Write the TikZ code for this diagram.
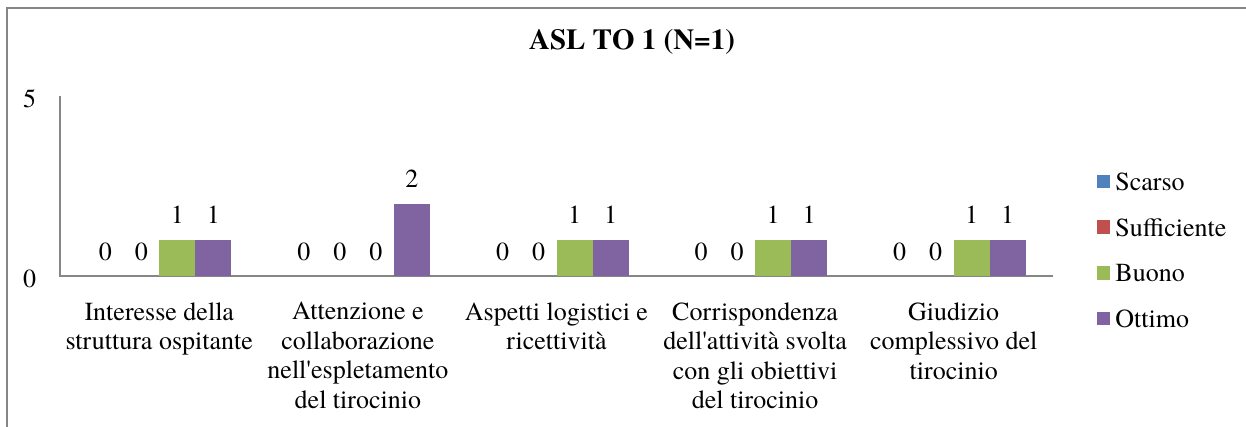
\documentclass[tikz,border=0pt]{standalone}
\usepackage{fontspec}
\setmainfont{TeX Gyre Termes}
\definecolor{scarso}{HTML}{4F81BD}
\definecolor{suff}{HTML}{C0504D}
\definecolor{buono}{HTML}{9BBB59}
\definecolor{ottimo}{HTML}{8064A2}
\definecolor{rule}{HTML}{868686}
\tikzset{
  val/.style={anchor=base, inner sep=0pt},
  cat/.style={anchor=north, align=center, inner sep=0pt},
  key/.style={anchor=base west, inner sep=0pt}
}
\begin{document}
\begin{tikzpicture}[x=0.5pt, y=-0.5pt, font=\fontsize{13}{14.75}\selectfont]
    \useasboundingbox (0,0) rectangle (1246,427);
    \draw[rule, line width=1pt] (6.5,427) -- (6.5,8.5) -- (1246,8.5);
    \node[anchor=base, font=\fontsize{14.5}{16}\selectfont\bfseries] (title) at (632,50) {ASL TO 1 (N=1)};
    \draw[rule, line width=0.8pt] (60,96) -- (60,276) -- (1053,276);
    \node (ymax) at (29.5,98.5) {5};
    \node (ymin) at (29.5,279) {0};
    \fill[buono] (159.3,276) rectangle (195.3,240);
    \fill[ottimo] (195.3,276) rectangle (231.3,240);
    \fill[ottimo] (393.9,276) rectangle (429.9,204);
    \fill[buono] (556.5,276) rectangle (592.5,240);
    \fill[ottimo] (592.5,276) rectangle (628.5,240);
    \fill[buono] (755.1,276) rectangle (791.1,240);
    \fill[ottimo] (791.1,276) rectangle (827.1,240);
    \fill[buono] (953.7,276) rectangle (989.7,240);
    \fill[ottimo] (989.7,276) rectangle (1025.7,240);
    \node[val] (v1a) at (105.3,260) {0};
    \node[val] (v1b) at (141.3,260) {0};
    \node[val] (v1c) at (177.3,224) {1};
    \node[val] (v1d) at (213.3,224) {1};
    \node[val] (v2a) at (303.9,260) {0};
    \node[val] (v2b) at (339.9,260) {0};
    \node[val] (v2c) at (375.9,260) {0};
    \node[val] (v2d) at (411.9,188) {2};
    \node[val] (v3a) at (502.5,260) {0};
    \node[val] (v3b) at (538.5,260) {0};
    \node[val] (v3c) at (574.5,224) {1};
    \node[val] (v3d) at (610.5,224) {1};
    \node[val] (v4a) at (701.1,260) {0};
    \node[val] (v4b) at (737.1,260) {0};
    \node[val] (v4c) at (773.1,224) {1};
    \node[val] (v4d) at (809.1,224) {1};
    \node[val] (v5a) at (899.7,260) {0};
    \node[val] (v5b) at (935.7,260) {0};
    \node[val] (v5c) at (971.7,224) {1};
    \node[val] (v5d) at (1007.7,224) {1};
    \node[cat] (interesse) at (159.3,302) {Interesse della\\struttura ospitante};
    \node[cat] (attenzione) at (357.9,302) {Attenzione e\\collaborazione\\nell\textquotesingle espletamento\\del tirocinio};
    \node[cat] (aspetti) at (556.5,302) {Aspetti logistici e\\ricettività};
    \node[cat] (corrisp) at (755.1,302) {Corrispondenza\\dell\textquotesingle attività svolta\\con gli obiettivi\\del tirocinio};
    \node[cat] (giudizio) at (953.7,302) {Giudizio\\complessivo del\\tirocinio};
    \fill[scarso] (1096.5,175) rectangle +(13.5,13.5);
    \fill[suff] (1096.5,220.5) rectangle +(13.5,13.5);
    \fill[buono] (1096.5,266) rectangle +(13.5,13.5);
    \fill[ottimo] (1096.5,311.5) rectangle +(13.5,13.5);
    \node[key] (kscarso) at (1115,190.7) {Scarso};
    \node[key] (ksuff) at (1115,236) {Sufficiente};
    \node[key] (kbuono) at (1115,281.5) {Buono};
    \node[key] (kottimo) at (1115,327) {Ottimo};
\end{tikzpicture}
\end{document}
